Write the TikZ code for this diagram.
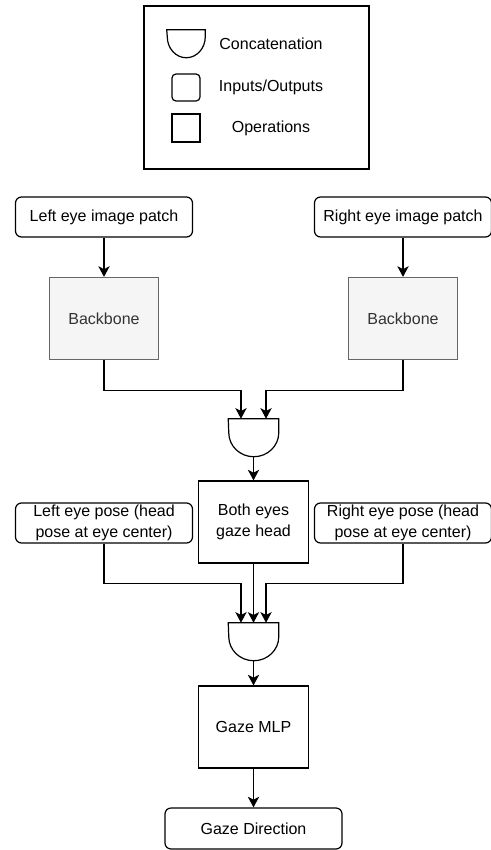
\documentclass[tikz,border=0pt]{standalone}
\usepackage{fontspec}
\setmainfont{Liberation Sans}
\usetikzlibrary{arrows.meta}
\definecolor{bbfill}{HTML}{F5F5F5}
\definecolor{bbdraw}{HTML}{666666}
\definecolor{bbtext}{HTML}{333333}
\tikzset{
	io/.style={draw, rounded corners=4.5pt, line width=0.9pt, minimum width=132.75pt, minimum height=30pt, align=center, inner sep=0pt},
	op/.style={draw, line width=0.9pt, minimum width=82pt, minimum height=61.5pt, align=center, inner sep=0pt},
	bbone/.style={op, draw=bbdraw, fill=bbfill, text=bbtext},
	catnode/.style={minimum width=37.5pt, minimum height=28.5pt, inner sep=0pt},
	catline/.style={line width=0.9pt},
	arr/.style={-{Stealth[length=8pt, width=8.5pt, inset=2.2pt]}, line width=0.9pt},
}
\begin{document}
\begin{tikzpicture}[x=0.75pt, y=-0.75pt, font=\fontsize{12}{15.5}\selectfont]
	\useasboundingbox (0,0) rectangle (490,850);

	% legend
	\node[draw, line width=0.9pt, minimum width=168.75pt, minimum height=122.25pt] (legend) at (256.5,87.5) {};
	\node[catnode, minimum width=28.5pt, minimum height=21pt] (keycat) at (186,44) {};
	\draw[catline] (keycat.north west) -- (keycat.north east) -- ++(0,7) arc[start angle=0, end angle=180, x radius=19, y radius=21] -- cycle;
	\node[io, minimum width=21pt, minimum height=20.25pt, rounded corners=3pt] (keyio) at (186,87.5) {};
	\node[op, minimum width=21pt, minimum height=21pt] (keyop) at (186,128) {};
	\node (keycattxt) at (271,44) {Concatenation};
	\node (keyiotxt) at (271,87.5) {Inputs/Outputs};
	\node (keyoptxt) at (271,128) {Operations};

	% both eyes
	\foreach \side/\x/\lbl in {L/104/Left, R/403/Right}
	{
		\node[io] (patch\side) at (\x,217) {\lbl{} eye image patch};
		\node[bbone] (bb\side) at (\x,318.5) {Backbone};
		\node[io] (pose\side) at (\x,523) {\lbl{} eye pose (head\\pose at eye center)};
		\draw[arr] (patch\side) -- (bb\side);
	}

	\node[catnode] (cat1) at (253.5,438) {};
	\node[op] (head) at (253.5,522) {Both eyes\\gaze head};
	\node[catnode] (cat2) at (253.5,642) {};
	\node[op] (mlp) at (253.5,727) {Gaze MLP};
	\node[io, minimum height=30.75pt] (out) at (253.5,828.5) {Gaze Direction};

	\foreach \c in {cat1,cat2}
	{
		\draw[catline] (\c.north west) -- (\c.north east) -- ++(0,14) arc[start angle=0, end angle=180, x radius=25, y radius=24] -- cycle;
	}

	\draw[arr] (bbL.south) -- ++(0,30) -| ([xshift=-9.4pt]cat1.north);
	\draw[arr] (bbR.south) -- ++(0,30) -| ([xshift=9.4pt]cat1.north);
	\draw[arr] (cat1.south) -- (head.north);

	\draw[arr] (poseL.south) -- ++(0,40) -| ([xshift=-9.4pt]cat2.north);
	\draw[arr] (poseR.south) -- ++(0,40) -| ([xshift=9.4pt]cat2.north);
	\draw[arr] (head.south) -- (cat2.north);
	\draw[arr] (cat2.south) -- (mlp.north);
	\draw[arr] (mlp.south) -- (out.north);
\end{tikzpicture}
\end{document}
